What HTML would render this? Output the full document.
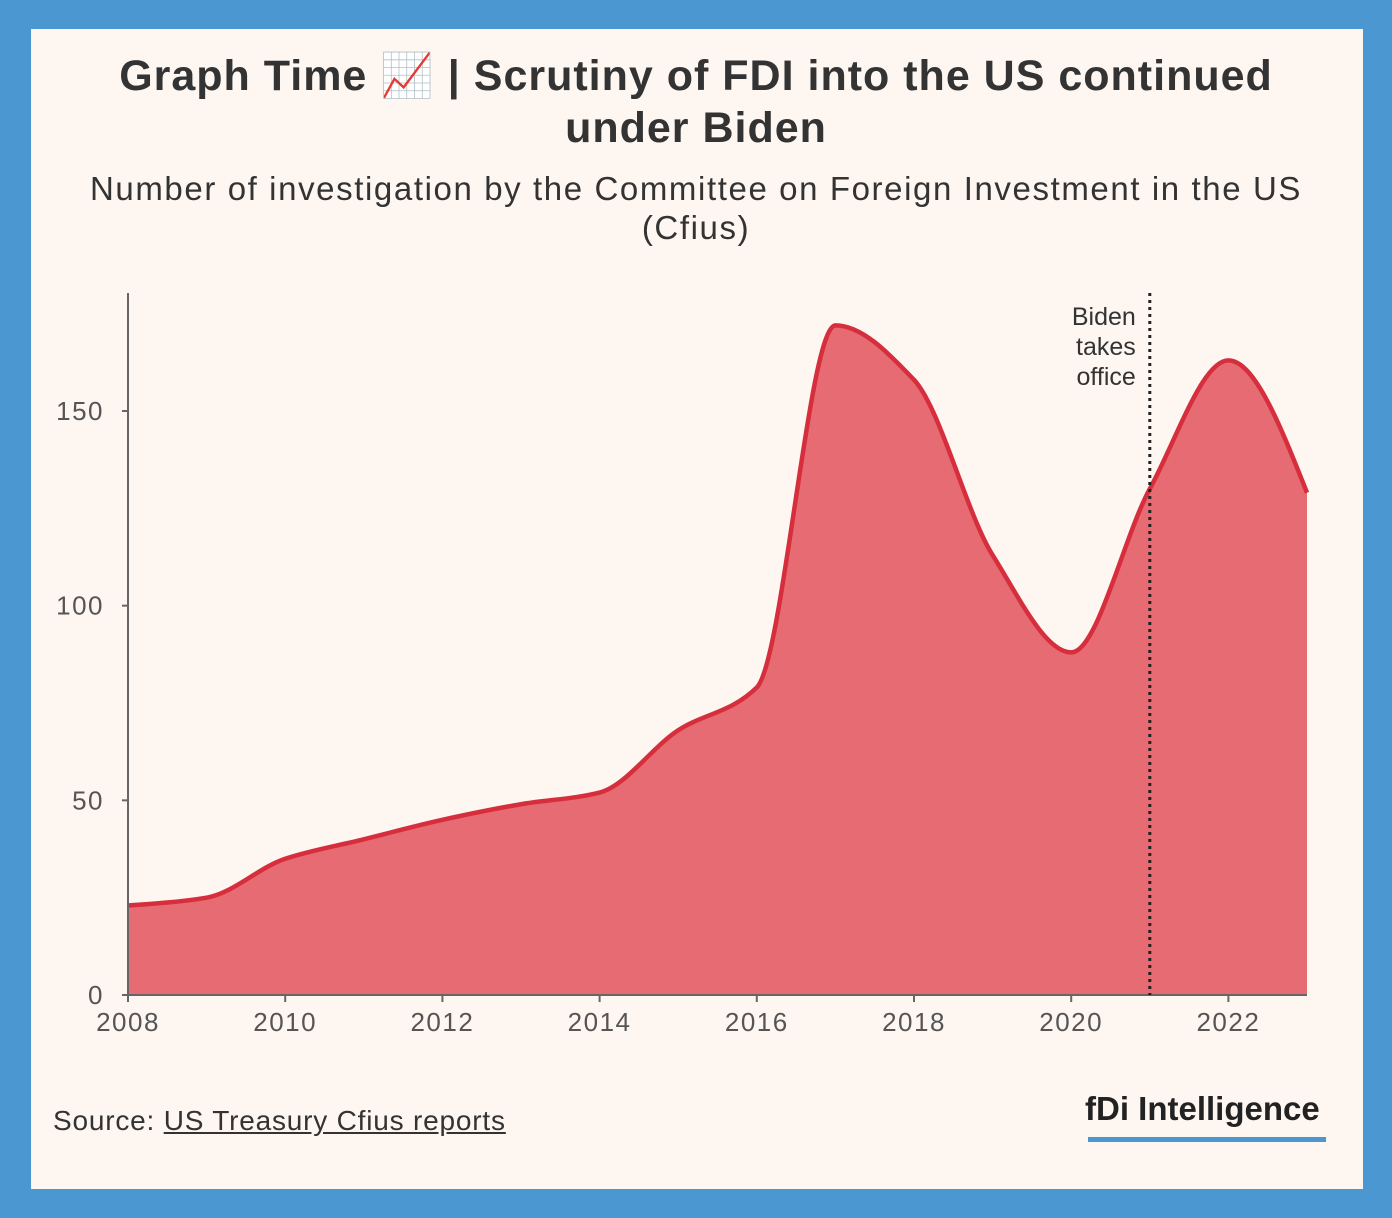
<!DOCTYPE html>
<html><head><meta charset="utf-8"><style>
body{margin:0;width:1392px;height:1218px;background:#4b97d2;font-family:"Liberation Sans",sans-serif;overflow:hidden}
#card{position:absolute;left:31px;top:29px;width:1332px;height:1160px;background:#fdf6f1}
#title{position:absolute;left:0;width:1392px;top:50px;text-align:center;font-weight:bold;font-size:43px;letter-spacing:1px;line-height:52px;color:#333}
#sub{position:absolute;left:0;width:1392px;top:169px;text-align:center;font-size:33px;letter-spacing:1.6px;line-height:39px;color:#333}
#src{position:absolute;left:53px;top:1105px;font-size:28px;letter-spacing:0.8px;color:#333}
#src u{text-decoration:underline}
#logo{position:absolute;left:1085px;top:1090px;font-size:33px;font-weight:bold;color:#222}
#logobar{position:absolute;left:1088px;top:1137px;width:238px;height:5px;background:#4b97d2}
svg{position:absolute;left:0;top:0}
</style></head><body>
<div id="card"></div>
<div id="title">Graph Time 📈 | Scrutiny of FDI into the US continued<br>under Biden</div>
<div id="sub">Number of investigation by the Committee on Foreign Investment in the US<br>(Cfius)</div>
<svg width="1392" height="1218" id="chart"></svg>
<div id="src">Source: <u>US Treasury Cfius reports</u></div>
<div id="logo">fDi Intelligence</div>
<div id="logobar"></div>
<script>
const years=[2008,2009,2010,2011,2012,2013,2014,2015,2016,2017,2018,2019,2020,2021,2022,2023];
const counts=[23,25,35,40,45,49,52,68,79,172,158,113,88,130,163,129];
const yTicks=[0,50,100,150];
const xTicks=[2008,2010,2012,2014,2016,2018,2020,2022];
const annotationYear=2021;
const annotationLines=["Biden","takes","office"];
const NS="http://www.w3.org/2000/svg";
const svg=document.getElementById('chart');
const x0=128,x1=1307,y0=995,yTop=293;
const X=v=>x0+(v-2008)*(x1-x0)/15;
const Y=v=>y0-v*(995-411)/150;
function mk(t,a,p){const e=document.createElementNS(NS,t);for(const k in a)e.setAttribute(k,a[k]);(p||svg).appendChild(e);return e;}
function monotone(px,py){
 const n=px.length,d=[],m=[];
 for(let i=0;i<n-1;i++)d.push((py[i+1]-py[i])/(px[i+1]-px[i]));
 for(let i=1;i<n-1;i++){ if(d[i-1]*d[i]<=0)m[i]=0; else{const h0=px[i]-px[i-1],h1=px[i+1]-px[i];m[i]=3*(h0+h1)/((2*h1+h0)/d[i-1]+(h1+2*h0)/d[i]);} }
 m[0]=(3*d[0]-m[1])/2;m[n-1]=(3*d[n-2]-m[n-2])/2;
 let s=`M${px[0]},${py[0]}`;
 for(let i=0;i<n-1;i++){const h=(px[i+1]-px[i])/3;s+=`C${px[i]+h},${py[i]+m[i]*h} ${px[i+1]-h},${py[i+1]-m[i+1]*h} ${px[i+1]},${py[i+1]}`;}
 return s;
}
const px=years.map(X),py=counts.map(Y);
const line=monotone(px,py);
const area=mk('path',{d:line+`L${px[px.length-1]},${y0}L${px[0]},${y0}Z`,fill:'#e66b72'});


const ln=mk('path',{d:line,fill:'none',stroke:'#d62e3c','stroke-width':4.5});


const ya=mk('line',{x1:x0,x2:x0,y1:yTop,y2:y0,stroke:'#666','stroke-width':2});


const xa=mk('line',{x1:x0,x2:x1,y1:y0,y2:y0,stroke:'#666','stroke-width':2});


yTicks.forEach(v=>{
 mk('line',{x1:x0-6,x2:x0,y1:Y(v),y2:Y(v),stroke:'#666','stroke-width':2});
 const t=mk('text',{x:104,y:Y(v)+9,'text-anchor':'end','font-size':26,'letter-spacing':1.5,fill:'#555','font-family':'Liberation Sans, sans-serif'});
 t.textContent=v;
 
 
});
xTicks.forEach(v=>{
 mk('line',{x1:X(v),x2:X(v),y1:y0,y2:y0+7,stroke:'#666','stroke-width':2});
 const t=mk('text',{x:X(v),y:1031,'text-anchor':'middle','font-size':26,'letter-spacing':1.5,fill:'#555','font-family':'Liberation Sans, sans-serif'});
 t.textContent=v;
 
 
});
const ax=X(annotationYear);
const dl=mk('line',{x1:ax,x2:ax,y1:yTop,y2:y0,stroke:'#222','stroke-width':3,'stroke-dasharray':'3,4'});


annotationLines.forEach((s,i)=>{
 const t=mk('text',{x:ax-14,y:325+i*30,'text-anchor':'end','font-size':25,fill:'#333','font-family':'Liberation Sans, sans-serif'});
 t.textContent=s;
 
 
});
</script>
</body></html>
